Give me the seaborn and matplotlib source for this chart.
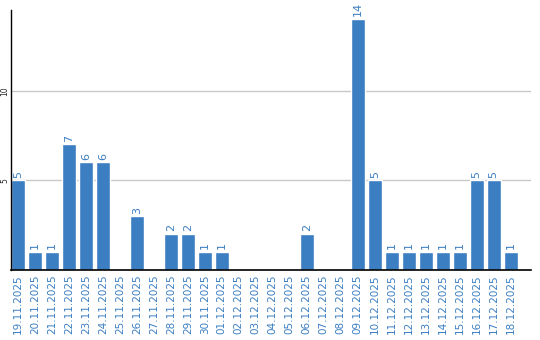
import matplotlib
matplotlib.use("Agg")
import matplotlib.pyplot as plt
import seaborn as sns
import pandas as pd

dates = ["19.11.2025", "20.11.2025", "21.11.2025", "22.11.2025", "23.11.2025",
         "24.11.2025", "25.11.2025", "26.11.2025", "27.11.2025", "28.11.2025",
         "29.11.2025", "30.11.2025", "01.12.2025", "02.12.2025", "03.12.2025",
         "04.12.2025", "05.12.2025", "06.12.2025", "07.12.2025", "08.12.2025",
         "09.12.2025", "10.12.2025", "11.12.2025", "12.12.2025", "13.12.2025",
         "14.12.2025", "15.12.2025", "16.12.2025", "17.12.2025", "18.12.2025"]
values = [5, 1, 1, 7, 6, 6, 0, 3, 0, 2, 2, 1, 1, 0, 0, 0, 0, 2, 0, 0,
          14, 5, 1, 1, 1, 1, 1, 5, 5, 1]
yticks = [5, 10]

blue = "#3b7ec2"
sns.set_style("white")
plt.rcParams['font.family'] = ['DejaVu Sans']

df = pd.DataFrame({"date": dates, "value": values})
fig = plt.figure(figsize=(5.4, 3.4), dpi=100)
ax = fig.add_axes([11/540, 70/340, 520/540, 260/340])
sns.barplot(data=df, x="date", y="value", color=blue, saturation=1, width=0.82, ax=ax, zorder=3)

for i, v in enumerate(values):
    if v > 0:
        ax.text(i, v + 0.15, str(v), rotation=90, ha="center", va="bottom",
                color=blue, fontsize=8)

ax.set_xlim(-0.41, 30.2)
ax.set_ylim(0, 14.5)
ax.set_yticks(yticks)
ax.set_yticklabels([str(t) for t in yticks], rotation=90, va="center", fontsize=5.5)
ax.tick_params(axis="y", length=0, pad=1)
ax.tick_params(axis="x", length=0, pad=3)
ax.set_xticks(range(len(dates)))
ax.set_xticklabels(dates, rotation=90, color=blue, fontsize=7.5)
ax.grid(axis="y", color="#c8c8c8", linewidth=1, zorder=0)
ax.set_xlabel("")
ax.set_ylabel("")
for s in ["top", "right"]:
    ax.spines[s].set_visible(False)
ax.spines["left"].set_color("black")
ax.spines["bottom"].set_color("black")
ax.spines["left"].set_linewidth(1)
ax.spines["bottom"].set_linewidth(1.2)
ax.spines["left"].set_zorder(5)
ax.spines["bottom"].set_zorder(5)

fig.savefig("out.png", dpi=100)
